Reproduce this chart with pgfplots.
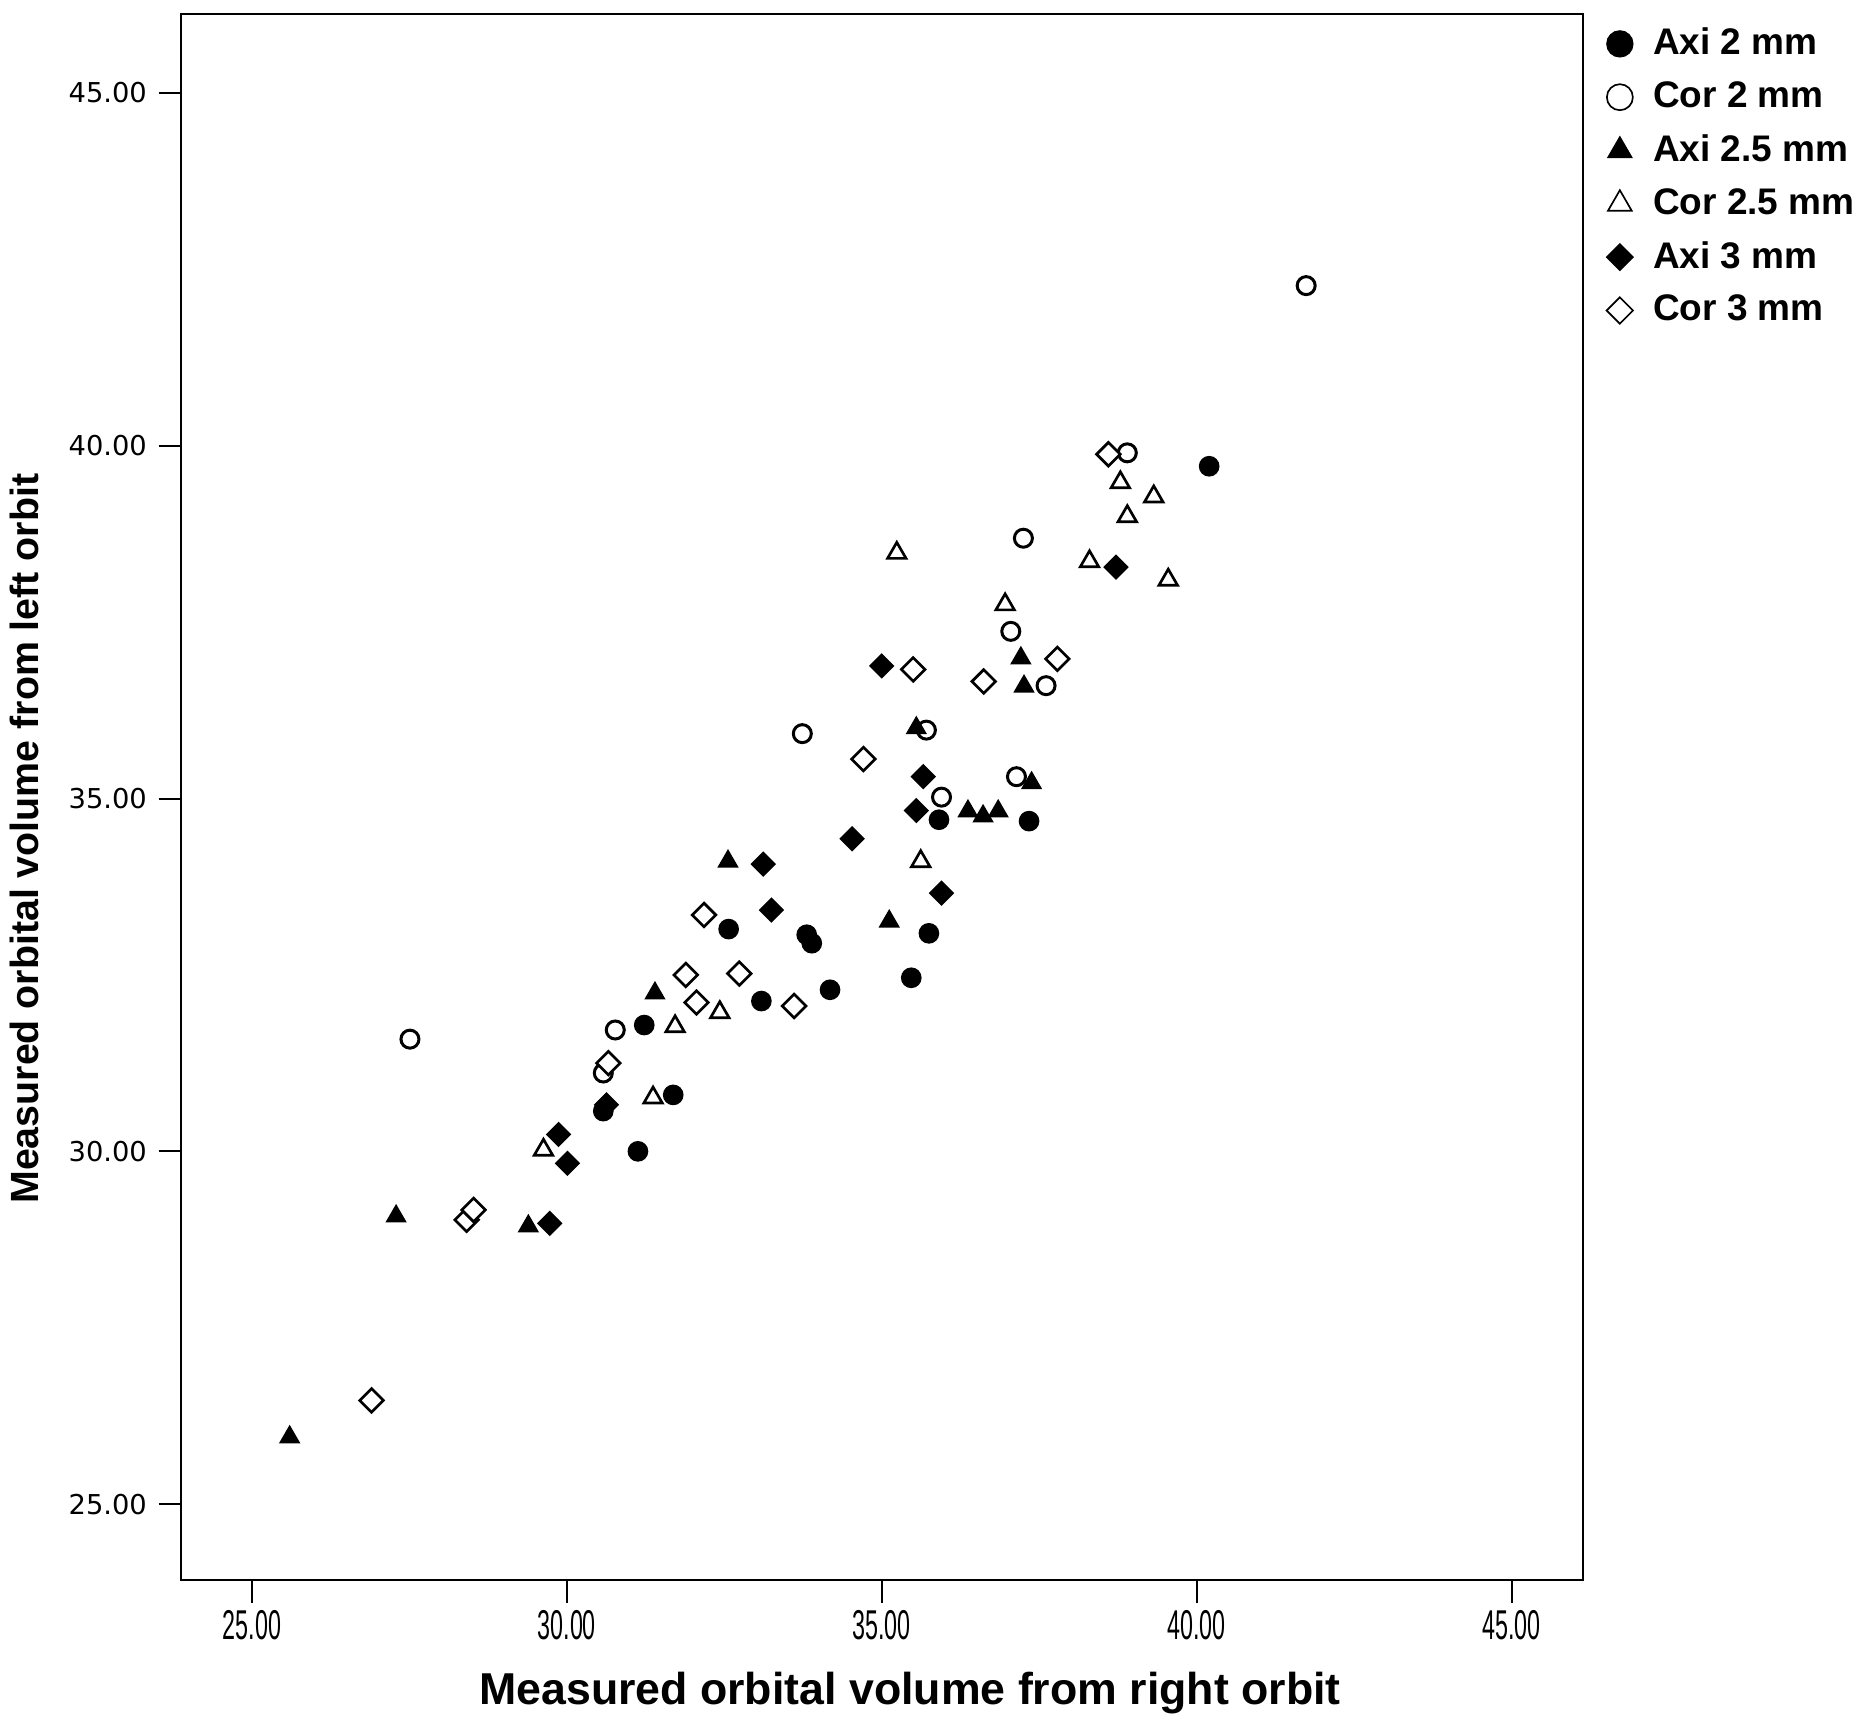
\documentclass[border=0pt]{standalone}
\usepackage{fontspec}
\setmainfont{Liberation Sans}
\newfontfamily\tickfont{DejaVu Sans}
\usepackage{graphicx}
\usepackage{pgfplots}
\pgfplotsset{compat=1.18}
\newcommand{\xt}[1]{\scalebox{0.56}[1]{#1}}
\pgfplotsset{
  legone/.style={legend image code/.code={\draw[##1, mark size=#1] plot coordinates {(0pt,0pt)};}},
  legopen/.style={legend image code/.code={\draw[##1, mark size=#1, every mark/.append style={line width=0.5pt}] plot coordinates {(0pt,0pt)};}},
}
\begin{document}
\begin{tikzpicture}
\begin{axis}[
  at={(0,0)}, anchor=south west,
  scale only axis, width=420.4pt, height=469.9pt,
  xmin=23.88, xmax=46.13, ymin=23.92, ymax=46.12,
  axis line style={line width=0.7pt},
  tick align=outside, major tick length=6.8pt,
  tick style={line width=0.6pt, black},
  xtick pos=bottom, ytick pos=left,
  xtick={25,30,35,40,45},
  xticklabels={\xt{25.00},\xt{30.00},\xt{35.00},\xt{40.00},\xt{45.00}},
  xticklabel style={font=\fontsize{12.5}{14}\selectfont, yshift=1.4pt},
  ytick={25,30,35,40,45},
  yticklabels={25.00,30.00,35.00,40.00,45.00},
  yticklabel style={font=\tickfont\fontsize{8.2}{10}\selectfont},
  xlabel={Measured orbital volume from right orbit},
  ylabel={Measured orbital volume from left orbit},
  xlabel style={at={(axis description cs:0.52,-0.0719)}, anchor=center, font=\bfseries\fontsize{13.4}{15}\selectfont},
  ylabel style={at={(axis description cs:-0.1118,0.4735)}, anchor=center, font=\bfseries\fontsize{11.8}{14}\selectfont},
  legend style={at={(1,1)}, anchor=north west, xshift=7pt, yshift=-4pt, draw=none, fill=none,
    inner sep=0pt, nodes={inner sep=0pt},
    font=\bfseries\fontsize{11.1}{13}\selectfont, row sep=6.6pt,
    /tikz/every odd column/.append style={column sep=6pt}},
  legend cell align=left,
]
% Axi 2 mm
\addplot[only marks, mark=*, mark size=2.9pt, mark options={fill=black, draw=black}, legone=3.9pt]
coordinates {
(40.20,39.71) (37.34,34.68) (35.91,34.70) (35.75,33.09) (35.47,32.46)
(34.18,32.29) (33.81,33.07) (33.89,32.95) (33.09,32.13) (32.57,33.15)
(31.23,31.79) (31.69,30.80) (31.13,30.00) (30.58,30.57)
};
\addlegendentry{Axi 2 mm}
% Cor 2 mm
\addplot[only marks, mark=*, mark size=2.7pt, mark options={fill=white, draw=black, line width=0.9pt}, legopen=3.9pt]
coordinates {
(41.74,42.27) (38.90,39.90) (37.25,38.69) (37.05,37.37) (37.61,36.60)
(33.74,35.92) (35.71,35.97) (37.14,35.31) (35.95,35.02) (30.77,31.72)
(27.51,31.59) (30.58,31.11)
};
\addlegendentry{Cor 2 mm}
% Axi 2.5 mm
\addplot[only marks, mark=triangle*, mark size=3.3pt, mark options={fill=black, draw=black}, legone=4.1pt]
coordinates {
(35.55,36.00) (37.21,36.99) (37.26,36.59) (37.38,35.22) (36.37,34.82)
(36.61,34.75) (36.85,34.82) (32.56,34.11) (35.12,33.26) (31.40,32.24)
(27.29,29.08) (29.39,28.94) (25.60,25.95)
};
\addlegendentry{Axi 2.5 mm}
% Cor 2.5 mm
\addplot[only marks, mark=triangle*, mark size=3.2pt, mark options={fill=white, draw=black, line width=0.8pt}, legopen=4.1pt]
coordinates {
(35.24,38.48) (38.30,38.36) (39.55,38.10) (36.96,37.75) (38.79,39.48)
(39.32,39.28) (38.90,39.00) (35.62,34.11) (32.43,31.97) (31.72,31.77)
(31.37,30.76) (29.63,30.02)
};
\addlegendentry{Cor 2.5 mm}
% Axi 3 mm
\addplot[only marks, mark=square*, mark size=2.5pt, mark options={fill=black, draw=black, rotate=45}, legone=2.8pt]
coordinates {
(35.00,36.88) (38.72,38.28) (35.66,35.31) (35.55,34.83) (34.53,34.43)
(33.12,34.07) (35.95,33.66) (33.25,33.42) (30.63,30.66) (29.87,30.24)
(30.01,29.83) (29.73,28.98)
};
\addlegendentry{Axi 3 mm}
% Cor 3 mm
\addplot[only marks, mark=square*, mark size=2.5pt, mark options={fill=white, draw=black, line width=0.8pt, rotate=45}, legopen=2.8pt]
coordinates {
(35.50,36.83) (34.71,35.56) (37.79,36.98) (36.62,36.66) (38.60,39.88)
(32.18,33.35) (31.89,32.50) (32.74,32.52) (32.06,32.11) (33.61,32.06)
(30.66,31.25) (28.41,29.03) (28.52,29.17) (26.90,26.47)
};
\addlegendentry{Cor 3 mm}
\end{axis}
\pgfresetboundingbox
\path (-54.4pt,-42.5pt) rectangle (503.3pt,474.1pt);
\end{tikzpicture}
\end{document}
